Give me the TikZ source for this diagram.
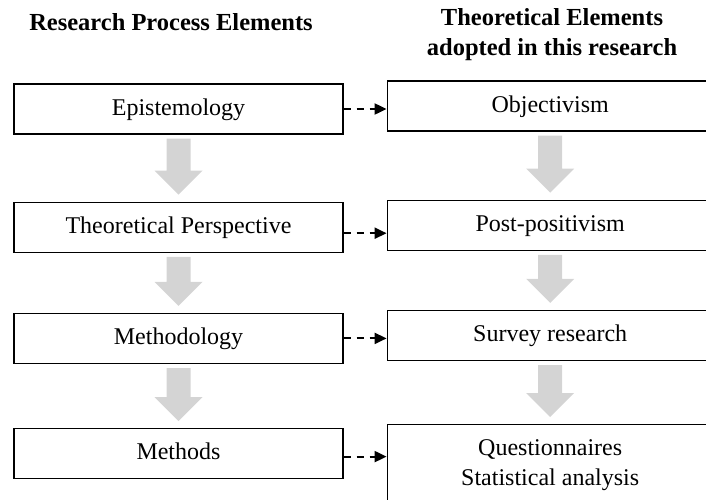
\documentclass[tikz,border=0pt]{standalone}
\usepackage{fontspec}
\setmainfont{Liberation Serif}
\usepackage{tikz}
\usetikzlibrary{positioning}
\usetikzlibrary{calc}
\usetikzlibrary{arrows.meta}

% grey block arrow from one box down to the next
\newcommand{\flowdown}[2]{%
	\fill[flow] ($(#1.south)+(-12,4)$) -- ($(#1.south)+(12,4)$)
		-- ($(#2.north)+(12,-31)$) -- ($(#2.north)+(24,-31)$)
		-- ($(#2.north)+(0,-7)$)
		-- ($(#2.north)+(-24,-31)$) -- ($(#2.north)+(-12,-31)$) -- cycle;}

\begin{document}
\begin{tikzpicture}[
	x=1pt, y=-1pt,
	flow/.style={fill=black!17},
	stage/.style={draw, line width=1.2pt, minimum width=329pt, minimum height=50pt,
		inner sep=0pt, text height=17pt, text depth=5pt,
		font=\fontsize{24}{30}\selectfont},
	element/.style={stage, minimum width=326pt, align=center},
	heading/.style={font=\fontsize{24.5}{30}\selectfont\bfseries, align=center},
	link/.style={line width=2pt, dash pattern=on 7pt off 6pt,
		-{Triangle[length=12pt, width=11pt]}}
]
\useasboundingbox (0,0) rectangle (706,499);
\clip (0,0) rectangle (706,499);

\node[heading, anchor=base] (leftTitle) at (171,30) {Research Process Elements};
\node[heading, anchor=base] (rightTitle) at (552,55) {Theoretical Elements\\adopted in this research};

% ---

\node[stage] (epistemology) at (178.5,109) {Epistemology};
\node[stage, below=67pt of epistemology] (perspective) {Theoretical Perspective};
\node[stage, below=60pt of perspective] (methodology) {Methodology};
\node[stage, below=64pt of methodology] (methods) {Methods};

% ---

\node[element, right=43pt of epistemology, yshift=3pt] (objectivism) {Objectivism};
\node[element, below=68pt of objectivism] (postpositivism) {Post-positivism};
\node[element, below=59pt of postpositivism] (survey) {Survey research};
\node[element, below=63pt of survey, minimum height=82pt, text height=, text depth=]
	(questionnaires) {Questionnaires\\Statistical analysis};

% ---

\flowdown{epistemology}{perspective}
\flowdown{perspective}{methodology}
\flowdown{methodology}{methods}

\flowdown{objectivism}{postpositivism}
\flowdown{postpositivism}{survey}
\flowdown{survey}{questionnaires}

% ---

\draw[link] (epistemology.east) -- (epistemology.east -| objectivism.west);
\draw[link] ($(perspective.east)+(0,6)$) -- ($(perspective.east -| postpositivism.west)+(0,6)$);
\draw[link] (methodology.east) -- (methodology.east -| survey.west);
\draw[link] ($(methods.east)+(0,3)$) -- ($(methods.east -| questionnaires.west)+(0,3)$);

\end{tikzpicture}
\end{document}
